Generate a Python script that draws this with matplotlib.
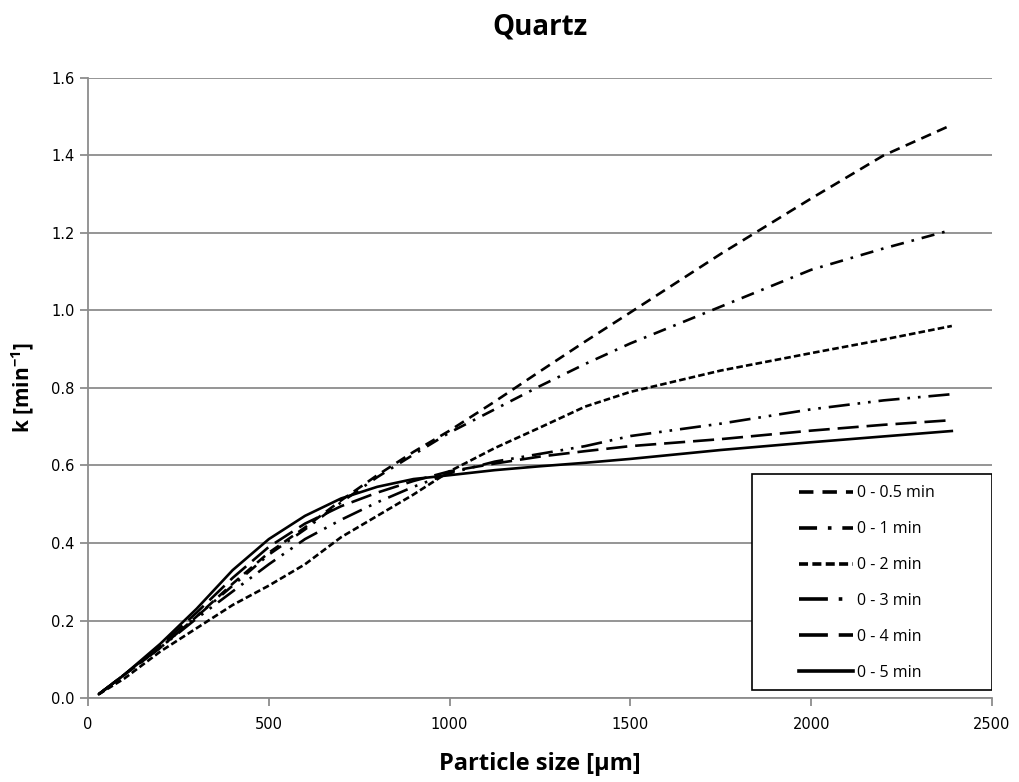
import numpy as np
import matplotlib
matplotlib.use('Agg')
import matplotlib.pyplot as plt
from matplotlib.patches import Rectangle

# particle size [um]
size = [30, 100, 200, 300, 400, 500, 600, 700, 800, 900, 1000,
        1125, 1250, 1375, 1500, 1750, 2000, 2200, 2389]

k_05 = [0.01, 0.06, 0.13, 0.21, 0.295, 0.375, 0.44, 0.51, 0.575, 0.635, 0.69,
        0.765, 0.843, 0.92, 0.995, 1.146, 1.289, 1.40, 1.479]
k_1 = [0.01, 0.06, 0.13, 0.21, 0.29, 0.37, 0.435, 0.505, 0.57, 0.628, 0.685,
       0.745, 0.805, 0.862, 0.915, 1.01, 1.105, 1.16, 1.208]
k_2 = [0.01, 0.05, 0.12, 0.18, 0.24, 0.29, 0.345, 0.415, 0.47, 0.525, 0.585,
       0.645, 0.698, 0.752, 0.79, 0.845, 0.89, 0.925, 0.96]
k_3 = [0.01, 0.06, 0.13, 0.205, 0.275, 0.345, 0.41, 0.46, 0.505, 0.545, 0.58,
       0.61, 0.63, 0.65, 0.676, 0.708, 0.745, 0.768, 0.784]
k_4 = [0.01, 0.06, 0.135, 0.22, 0.31, 0.39, 0.45, 0.495, 0.53, 0.56, 0.585,
       0.605, 0.623, 0.637, 0.65, 0.668, 0.69, 0.705, 0.717]
k_5 = [0.01, 0.06, 0.14, 0.23, 0.33, 0.41, 0.47, 0.515, 0.545, 0.565, 0.575,
       0.588, 0.598, 0.607, 0.617, 0.64, 0.66, 0.675, 0.689]

labels = ['0 - 0.5 min', '0 - 1 min', '0 - 2 min', '0 - 3 min', '0 - 4 min', '0 - 5 min']
series = [k_05, k_1, k_2, k_3, k_4, k_5]
dashes = [(4, 2.5), (5, 3, 1, 3), (2.5, 1.2), (8, 3, 1, 3, 1, 3), (8, 3), None]

plt.rcParams['font.family'] = ['DejaVu Sans']
plt.rcParams['mathtext.fontset'] = 'custom'
plt.rcParams['mathtext.bf'] = 'Open Sans:bold'
plt.rcParams['mathtext.rm'] = 'Open Sans:bold'

fig = plt.figure(figsize=(10.2, 7.82), dpi=100)
ax = fig.add_axes([0.0863, 0.1074, 0.8862, 0.7929])

for y, lab, d in zip(series, labels, dashes):
    line, = ax.plot(size, y, color='black', lw=1.9, label=lab)
    if d is not None:
        line.set_dashes(d)

ax.set_xlim(0, 2500)
ax.set_ylim(0, 1.6)
ax.set_xticks(np.arange(0, 2501, 500))
ax.set_yticks(np.arange(0, 1.61, 0.2))
ax.set_yticklabels(['%.1f' % v for v in np.arange(0, 1.61, 0.2)])
ax.yaxis.grid(True, color='#8c8c8c', lw=1.3)
ax.set_axisbelow(True)
for s in ['top', 'right']:
    ax.spines[s].set_visible(False)
for s in ['left', 'bottom']:
    ax.spines[s].set_color('#8c8c8c')
    ax.spines[s].set_linewidth(1.3)
ax.tick_params(axis='both', colors='#8c8c8c', labelcolor='black', labelsize=10.5,
               length=6, width=1.3, direction='out')
ax.tick_params(axis='x', pad=8)

ax.set_xlabel('Particle size [\u00b5m]', fontsize=17, fontweight='bold',
              family='Open Sans', labelpad=14)
ax.set_ylabel(r'k [min$^{\mathbf{-1}}$]', fontsize=15, fontweight='bold',
              family='Open Sans', labelpad=10)
ax.set_title('Quartz', fontsize=20, fontweight='bold', family='Open Sans', pad=31)

# legend box like the spreadsheet one
box = Rectangle((0.7345, 0.0129), 0.2655, 0.3484, transform=ax.transAxes,
                facecolor='white', edgecolor='black', lw=1.2, zorder=4)
ax.add_patch(box)
leg = ax.legend(loc='center', bbox_to_anchor=(0.862, 0.1855), frameon=False,
                handlelength=3.4, handletextpad=0.25, labelspacing=1.24,
                prop={'family': 'Open Sans', 'size': 11.5})
leg.set_zorder(5)
for h in leg.get_lines():
    h.set_linewidth(2.6)

fig.savefig('out.png', dpi=100)
